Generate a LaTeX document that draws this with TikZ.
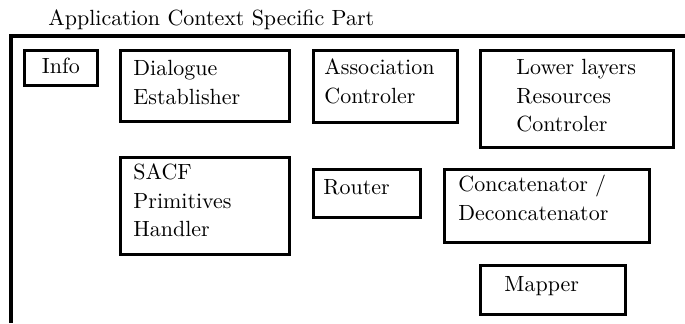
\documentclass[tikz,border=0pt]{standalone}
\begin{document}
\begin{tikzpicture}[x=0.455pt,y=-0.455pt,
  frameline/.style={line width=1.4pt,line join=miter},
  box/.style={draw,line width=1.3pt,anchor=north west,inner ysep=0pt,
    align=left,font=\fontsize{10pt}{13pt}\selectfont},
  caption/.style={anchor=base west,inner sep=0pt,font=\fontsize{10pt}{13pt}\selectfont}]
\useasboundingbox (0,0) rectangle (685,323);

% enclosing frame of the part
\coordinate (fr) at (685,36);
\coordinate (fc) at (11,36);
\coordinate (fb) at (11,323);
\draw[frameline] (fr) -- (fc) -- (fb);
\node[caption] (title) at (48,25) {Application Context Specific Part};

% functional blocks
\node[box,minimum width=33.2pt,inner xsep=0pt,text height=10.5pt,text depth=5.5pt,align=center]
  (info) at (23,49) {Info};
\node[box,text width=65.07pt,inner xsep=5.92pt,text height=11.38pt,text depth=20.93pt]
  (dlg) at (119,49) {Dialogue\\Establisher};
\node[box,text width=55.51pt,inner xsep=5.0pt,text height=10.92pt,text depth=21.84pt]
  (assoc) at (312,49) {Association\\Controler};
\node[box,text width=55.06pt,inner xsep=16.38pt,text height=10.92pt,text depth=33.22pt]
  (llrc) at (479,49) {Lower~layers\\Resources\\Controler};
\node[box,text width=65.07pt,inner xsep=5.92pt,text height=10.01pt,text depth=34.13pt]
  (sacf) at (119,156) {SACF\\Primitives\\Handler};
\node[box,text width=39.59pt,inner xsep=4.55pt,text height=11.38pt,text depth=10.47pt]
  (router) at (312,168) {Router};
\node[box,text width=80.54pt,inner xsep=6.37pt,text height=10.01pt,text depth=23.21pt]
  (concat) at (443,168) {Concatenator /\\Deconcatenator};
\node[box,text width=44.14pt,inner xsep=10.92pt,text height=11.83pt,text depth=10.47pt]
  (mapper) at (479,264) {Mapper};
\end{tikzpicture}
\end{document}
